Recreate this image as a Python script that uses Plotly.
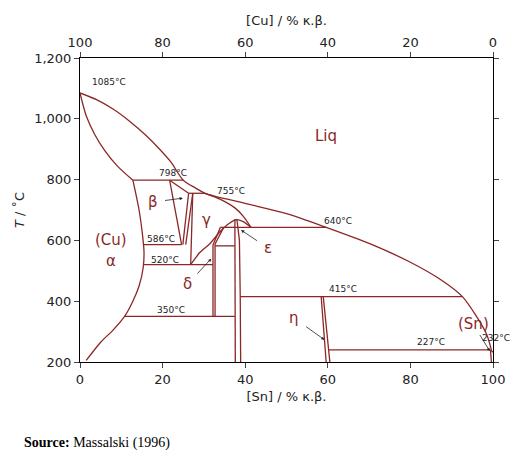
import plotly.graph_objects as go

C = "#8b2727"
# phase boundary curves (x = wt% Sn, T = °C)
liq_x = [0, 4, 8, 12, 16, 19, 22, 25, 28, 30.3, 40, 50, 59.6, 70, 80, 88, 92.6, 96, 98.5, 99.6]
liq_t = [1085, 1063, 1032, 992, 945, 904, 858, 798, 772, 755, 722, 688, 643, 590, 528, 465, 415, 350, 290, 240]
sol_x = [0, 1.5, 3.5, 6, 9, 12.8]
sol_t = [1085, 1010, 950, 895, 845, 798]
cus_x = [12.8, 14.3, 15.2, 15.5, 15.3, 14.3, 12.8, 10.8, 8, 5, 1.5]
cus_t = [798, 700, 610, 560, 510, 450, 400, 350, 305, 265, 205]
gam_x = [30.3, 34, 37.5, 39.5, 41.4]
gam_t = [755, 735, 707, 680, 643]
dome_x = [26.8, 29, 31.5, 34, 36, 37.8, 39.5, 41.4]
dome_t = [520, 560, 590, 630, 655, 668, 662, 643]
segments = [
    ([12.8, 25], [798, 798]), ([26.3, 30.3], [755, 755]),
    ([15.3, 24.6], [586, 586]), ([15.4, 32.2], [520, 520]),
    ([10.8, 37.5], [350, 350]), ([37.5, 59.6], [643, 643]),
    ([38.8, 92.6], [415, 415]), ([60.3, 99.4], [240, 240]),
    ([21.7, 24.6], [798, 586]), ([21.7, 26.3], [798, 755]),
    ([26.3, 24.9], [755, 586]), ([27.3, 25.6], [755, 586]),
    ([27.3, 26.8], [755, 520]),
    ([32.2, 32.2], [350, 585]), ([32.7, 32.7], [350, 588]),
    ([32.2, 34.0], [585, 643]), ([32.7, 34.8], [588, 643]),
    ([32.7, 37.5], [582, 582]), ([34.0, 37.5], [643, 643]),
    ([37.5, 37.5, 37.6], [668, 400, 200]), ([38, 38.6, 38.8, 38.9], [668, 600, 415, 200]),
    ([58.4, 59.6], [415, 200]), ([58.9, 60.2, 60.5], [415, 245, 200]),
    ([99.4, 100], [240, 232]), ([99.4, 99.6], [240, 200]),
]

fig = go.Figure()
def line(x, y, shape="spline"):
    fig.add_trace(go.Scatter(x=x, y=y, mode="lines", line=dict(color=C, width=1.3, shape=shape, smoothing=0.8),
                             hoverinfo="skip", showlegend=False))
for xs, ts in [(liq_x, liq_t), (sol_x, sol_t), (cus_x, cus_t), (gam_x, gam_t), (dome_x, dome_t)]:
    line(xs, ts)
for xs, ts in segments:
    line(xs, ts, "linear")
fig.add_trace(go.Scatter(x=[0, 100], y=[None, None], xaxis="x2", showlegend=False, hoverinfo="skip"))

temps = [("1085°C", 7, 1120), ("798°C", 22.5, 822), ("755°C", 36.5, 763), ("586°C", 19.6, 606),
         ("520°C", 20.5, 537), ("350°C", 22, 370), ("640°C", 62.5, 664), ("415°C", 63.7, 441),
         ("227°C", 85, 266)]
for t, x, y in temps:
    fig.add_annotation(x=x, y=y, text=t, showarrow=False, font=dict(size=9, color="#222"))
fig.add_annotation(xref="paper", yref="paper", x=1.045, y=0.056, text="232°C", showarrow=False,
                   font=dict(size=9, color="#222"))
phases = [("Liq", 59.6, 943), ("(Cu)", 7.5, 601), ("α", 7.5, 532), ("γ", 30.7, 667)]
for t, x, y in phases:
    fig.add_annotation(x=x, y=y, text=t, showarrow=False, font=dict(size=15, color=C))
arrows = [("β", 17.7, 726, 24.9, 739), ("δ", 26.1, 457, 31.8, 540), ("ε", 45.5, 575, 39, 634),
          ("η", 51.8, 345, 59.2, 273), ("(Sn)", 95.2, 325, 99.2, 236)]
for t, x, y, ax_, ay_ in arrows:
    fig.add_annotation(x=x, y=y, text=t, showarrow=False, font=dict(size=15, color=C))
    fig.add_annotation(x=ax_, y=ay_, ax=x + (ax_ - x) * 0.35, ay=y + (ay_ - y) * 0.35, axref="x", ayref="y",
                       text="", showarrow=True, arrowhead=2, arrowsize=0.8, arrowwidth=0.8, arrowcolor="#222")
fig.add_annotation(xref="paper", yref="paper", x=-0.14, y=-0.3, xanchor="left", showarrow=False,
                   text="<b>Source:</b> Massalski (1996)", font=dict(family="Liberation Serif", size=14, color="black"))

ax = dict(showline=True, linecolor="black", linewidth=1, ticks="outside", ticklen=5,
          showgrid=False, zeroline=False, tickfont=dict(size=13, color="#222"))
tf = dict(size=13, color="#222")
fig.update_layout(
    width=520, height=453, margin=dict(l=72, r=35, t=50, b=99),
    plot_bgcolor="white", paper_bgcolor="white", font=dict(family="DejaVu Sans"),
    annotations=list(fig.layout.annotations),
    xaxis=dict(range=[0, 100], dtick=20, title=dict(text="[Sn] / % κ.β.", font=tf, standoff=6), **ax),
    xaxis2=dict(range=[100, 0], dtick=20, overlaying="x", side="top",
                title=dict(text="[Cu] / % κ.β.", font=tf, standoff=6), **ax),
    yaxis=dict(range=[200, 1200], dtick=200, tickformat=",d", mirror="ticks",
               title=dict(text="<i>T</i> / ˚C", font=tf, standoff=6), **ax),
)
fig.write_html("out.html")
